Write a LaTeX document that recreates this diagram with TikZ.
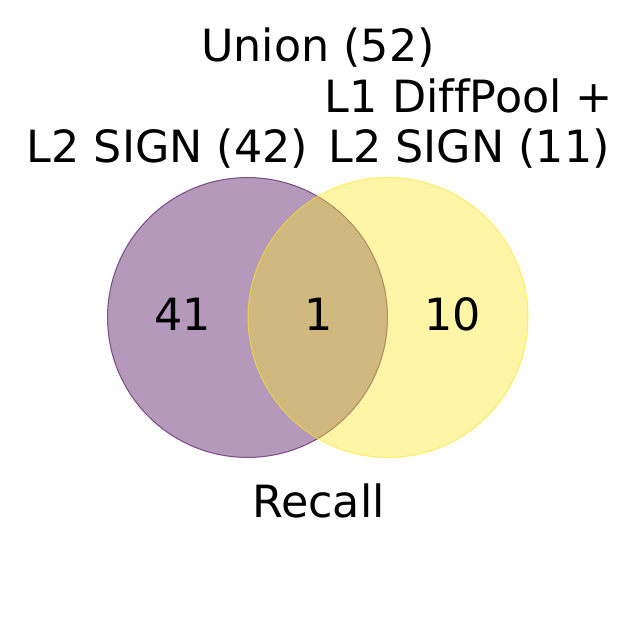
\documentclass[tikz,border=0pt]{standalone}
\usepackage{fontspec}
\setmainfont[Ligatures=NoCommon]{DejaVu Sans}
\definecolor{vpurple}{HTML}{440154}
\definecolor{vyellow}{HTML}{FDE725}
\tikzset{
  lbl/.style={anchor=base, inner sep=0pt, font=\fontsize{44.4}{50}\selectfont, align=center},
}
\begin{document}
\begin{tikzpicture}[x=1pt,y=-1pt]
\useasboundingbox (0,0) rectangle (636,636);
\fill[white] (0,0) rectangle (636,636);
\node[circle, minimum size=280pt, inner sep=0pt, fill=vpurple, fill opacity=0.4, draw=vpurple, draw opacity=0.6, line width=1pt] (A) at (247.5,317.5) {};
\node[circle, minimum size=280pt, inner sep=0pt, fill=vyellow, fill opacity=0.4, draw=vyellow, draw opacity=0.6, line width=1pt] (B) at (388,317.5) {};
\node[lbl] (title) at (318,62) {Union (52)};
\node[lbl] (la) at (167.5,163) {L2 SIGN (42)};
\node[lbl] (lb1) at (469,113) {L1 DiffPool +};
\node[lbl] (lb2) at (469,163) {L2 SIGN (11)};
\node[lbl] (n1) at (182.5,330.5) {41};
\node[lbl] (n2) at (318.5,330.5) {1};
\node[lbl] (n3) at (453,330.5) {10};
\node[lbl] (rec) at (318.5,517.5) {Recall};
\end{tikzpicture}
\end{document}
